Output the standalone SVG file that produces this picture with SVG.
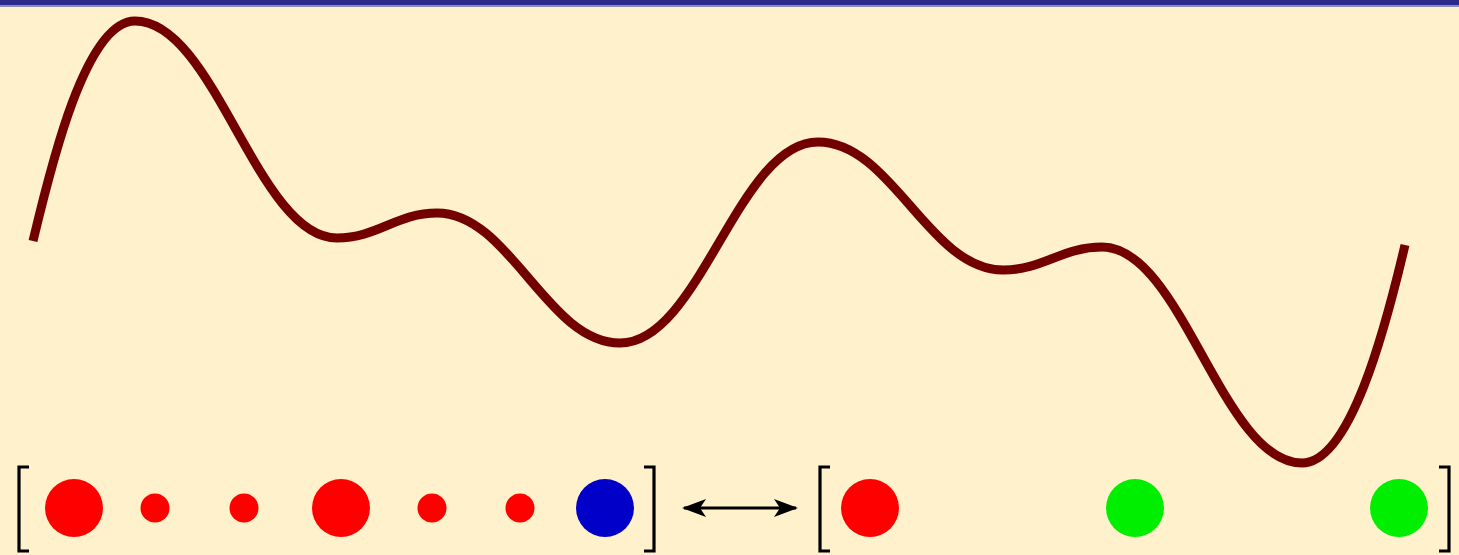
<svg xmlns="http://www.w3.org/2000/svg" width="1459" height="555" viewBox="0 0 1459 555">
<style>
.curve{fill:none;stroke:#730000;stroke-width:9;stroke-linecap:butt;stroke-linejoin:round}
.br{fill:none;stroke:#000;stroke-width:3.2;stroke-linecap:butt}
.red{fill:#ff0000}
.blue{fill:#0000c8}
.green{fill:#00ee00}
.arr{stroke:#000;stroke-width:3;fill:none}
</style>
<defs>
<marker id="ah" viewBox="0 0 24 18" refX="22" refY="9" markerWidth="24" markerHeight="18" markerUnits="userSpaceOnUse" orient="auto-start-reverse">
<path d="M0,0 L24,9 L0,18 L6,9 Z" fill="#000"/>
</marker>
</defs>
<rect x="0" y="0" width="1459" height="555" fill="#fff1cb"/>
<rect x="0" y="0" width="1459" height="5.5" fill="#2b2a8c"/>
<rect x="0" y="5.5" width="1459" height="1.5" fill="#8a89bf"/>
<g id="landscape">
<path class="curve" d="M33,241 C50,170 85,21 135,21 C215,21 257,238 337,238 C377,238 397,213 437,213 C510,213 547,343 620,343 C700,343 738,142 818,142 C892,142 929,270 1003,270 C1043,270 1062,247 1102,247 C1182,247 1222,463 1302,463 C1350,463 1385,330 1405,245"/>
</g>
<g id="left-vector">
<path class="br" d="M29,467 H19 V551 H29"/>
<circle class="red" cx="74" cy="508" r="29"/>
<circle class="red" cx="155" cy="508" r="14.5"/>
<circle class="red" cx="244" cy="508" r="14.5"/>
<circle class="red" cx="341" cy="508" r="29"/>
<circle class="red" cx="432" cy="508" r="14.5"/>
<circle class="red" cx="520" cy="508" r="14.5"/>
<circle class="blue" cx="605" cy="508" r="29"/>
<path class="br" d="M644,467 H654 V551 H644"/>
</g>
<g id="right-vector">
<path class="br" d="M830,467 H820 V551 H830"/>
<circle class="red" cx="870" cy="508" r="29"/>
<circle class="green" cx="1135" cy="508" r="29"/>
<circle class="green" cx="1399" cy="508" r="29"/>
<path class="br" d="M1439,467 H1449 V551 H1439"/>
</g>
<g id="connectors">
<line class="arr" x1="684" y1="508" x2="796" y2="508" marker-start="url(#ah)" marker-end="url(#ah)"/>
</g>
</svg>
